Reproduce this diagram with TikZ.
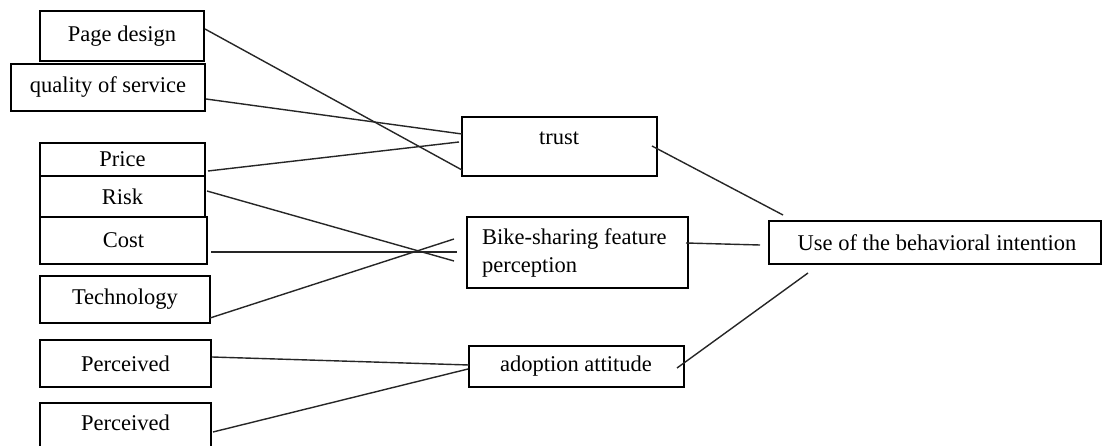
\documentclass[tikz,border=0pt]{standalone}
\usepackage{fontspec}
\setmainfont{Liberation Serif}
\begin{document}
\begin{tikzpicture}[x=1pt,y=-1pt,
  box/.style={draw=black, line width=1.4pt, inner sep=0pt, rectangle},
  lbl/.style={font=\fontsize{22.5}{26}\selectfont, inner sep=0pt, text=black},
  conn/.style={draw=black!85, line width=1.4pt}]
\useasboundingbox (0,0) rectangle (1103,446);
\clip (0,0) rectangle (1103,446);
\fill[white] (0,0) rectangle (1103,446);
% left boxes
\node[box, minimum width=164pt, minimum height=50pt] (pd) at (122,36) {};
\node[lbl] (pdT) at (122,36) {Page design};
\node[box, minimum width=194pt, minimum height=47pt] (qos) at (108,87.5) {};
\node[lbl] (qosT) at (108,87.5) {quality of service};
\node[box, minimum width=165pt, minimum height=33pt] (price) at (122.5,159.5) {};
\node[lbl] (priceT) at (122.5,159.5) {Price};
\node[box, minimum width=165pt, minimum height=41pt] (risk) at (122.5,196.5) {};
\node[lbl] (riskT) at (122.5,196.5) {Risk};
\node[box, minimum width=167pt, minimum height=47pt] (cost) at (123.5,240.5) {};
\node[lbl] (costT) at (123.5,240.5) {Cost};
\node[box, minimum width=170pt, minimum height=47pt] (tech) at (125,299.5) {};
\node[lbl] (techT) at (125,299.5) {Technology};
\node[box, minimum width=171pt, minimum height=47pt] (per1) at (125.5,363.5) {};
\node[lbl] (per1T) at (125.5,363.5) {Perceived};
\node[box, minimum width=171pt, minimum height=60pt] (per2) at (125.5,433) {};
\node[lbl] (per2T) at (125.5,423) {Perceived};
% middle boxes
\node[box, minimum width=195pt, minimum height=59pt] (trust) at (559.5,146.5) {};
\node[lbl, anchor=base] (trustT) at (559,145) {trust};
\node[box, minimum width=221pt, minimum height=71pt] (bike) at (577.5,252.5) {};
\node[lbl, anchor=base west] (bikeT1) at (482,245) {Bike-sharing feature};
\node[lbl, anchor=base west] (bikeT2) at (482,273) {perception};
\node[box, minimum width=215pt, minimum height=41pt] (adopt) at (576.5,366.5) {};
\node[lbl] (adoptT) at (576,366.5) {adoption attitude};
% right box
\node[box, minimum width=332pt, minimum height=43pt] (use) at (935,242.5) {};
\node[lbl] (useT) at (937,242.5) {Use of the behavioral intention};
% connector end points
\coordinate (a1) at (205,29);  \coordinate (b1) at (462,170);
\coordinate (a2) at (206,99);  \coordinate (b2) at (462,134);
\coordinate (a3) at (208,171); \coordinate (b3) at (459,142);
\coordinate (a4) at (207,191); \coordinate (b4) at (454,261);
\coordinate (a5) at (211,252); \coordinate (b5) at (457,252);
\coordinate (a6) at (210,318); \coordinate (b6) at (454,239);
\coordinate (a7) at (212,357); \coordinate (b7) at (469,365);
\coordinate (a8) at (213,432); \coordinate (b8) at (468,369);
\coordinate (c1) at (652,146); \coordinate (d1) at (783,215);
\coordinate (c2) at (686,243); \coordinate (d2) at (760,245);
\coordinate (c3) at (677,368); \coordinate (d3) at (808,273);
% connectors
\draw[conn] (a1) -- (b1);
\draw[conn] (a2) -- (b2);
\draw[conn] (a3) -- (b3);
\draw[conn] (a4) -- (b4);
\draw[conn] (a5) -- (b5);
\draw[conn] (a6) -- (b6);
\draw[conn] (a7) -- (b7);
\draw[conn] (a8) -- (b8);
\draw[conn] (c1) -- (d1);
\draw[conn] (c2) -- (d2);
\draw[conn] (c3) -- (d3);
\end{tikzpicture}
\end{document}
